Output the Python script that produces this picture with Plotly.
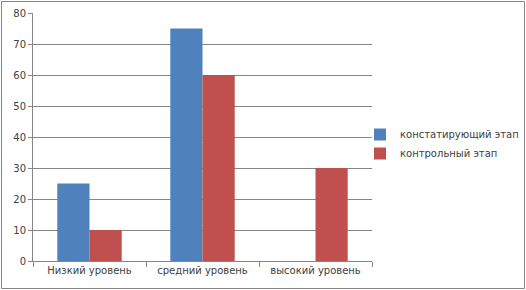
import plotly.graph_objects as go

categories = ["Низкий уровень", "средний уровень", "высокий уровень"]
series_names = ["констатирующий этап", "контрольный этап"]
stage1 = [25, 75, 0]
stage2 = [10, 60, 30]
colors = ["#4F81BD", "#C0504D"]

W, H = 526, 290
L, R, T, B = 33, 154, 13, 29
pw = W - L - R
ph = H - T - B

def px_x(x):
    return (x - L) / pw

def px_y(y):
    return (H - B - y) / ph

fig = go.Figure()
for name, vals, c in zip(series_names, [stage1, stage2], colors):
    fig.add_trace(go.Bar(x=categories, y=vals, name=name, marker=dict(color=c, line=dict(width=0))))

fig.update_layout(
    width=W, height=H,
    margin=dict(l=L, r=R, t=T, b=B, autoexpand=False),
    paper_bgcolor="white", plot_bgcolor="white",
    barmode="group", bargap=0.43, bargroupgap=0,
    font=dict(family="DejaVu Sans, Verdana, sans-serif", size=10, color="#404040"),
    legend=dict(x=px_x(360), y=px_y(120), xanchor="left", yanchor="top",
                font=dict(size=10, color="#404040"), bgcolor="rgba(0,0,0,0)",
                itemwidth=30, tracegroupgap=0),
    xaxis=dict(type="category", showgrid=False, showline=True, linecolor="#868686",
               ticks="outside", tickson="boundaries", ticklen=5, tickcolor="#868686",
               tickfont=dict(size=10, color="#404040")),
    yaxis=dict(range=[0, 80], dtick=10, showgrid=True, gridcolor="#868686", gridwidth=1,
               showline=True, linecolor="#868686", ticks="outside", ticklen=4,
               tickcolor="#868686", zeroline=False,
               tickfont=dict(size=10, color="#404040")),
    shapes=[dict(type="rect", xref="paper", yref="paper",
                 x0=px_x(1.5), x1=px_x(524.5), y0=px_y(288.5), y1=px_y(1.5),
                 line=dict(color="#868686", width=1), fillcolor="rgba(0,0,0,0)", layer="below")],
)

fig.write_html("out.html")
